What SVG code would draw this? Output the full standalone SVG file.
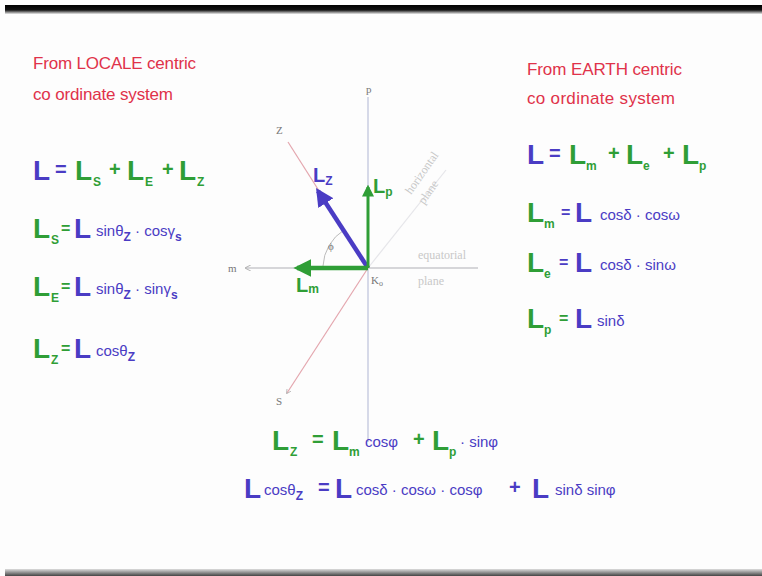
<svg xmlns="http://www.w3.org/2000/svg" width="762" height="576" viewBox="0 0 762 576">
<style>
text { font-family: "Liberation Sans", Arial, sans-serif; }
.big { font-size: 28px; font-weight: bold; }
.mid { font-size: 20px; font-weight: bold; }
.eq { font-size: 16px; font-weight: bold; }
.sm { font-size: 15px; }
.sub { font-size: 12px; font-weight: bold; }
.hd { font-size: 17px; fill: #e0324a; }
.b { fill: #4a3cc4; }
.g { fill: #2f9e36; }
.lbl { font-family: "Liberation Serif", serif; font-size: 11px; fill: #777; }
.faint { font-family: "Liberation Serif", serif; font-size: 12px; fill: #c8c8c8; }
</style>
<defs>
<marker id="ab" viewBox="0 0 10 10" refX="8" refY="5" markerWidth="4" markerHeight="4" orient="auto"><path d="M0,0 L10,5 L0,10 z" fill="#4a3cc4"/></marker>
<marker id="ag" viewBox="0 0 10 10" refX="8" refY="5" markerWidth="4" markerHeight="4" orient="auto"><path d="M0,0 L10,5 L0,10 z" fill="#2f9e36"/></marker>
<marker id="at" viewBox="0 0 10 10" refX="8" refY="5" markerWidth="4" markerHeight="4" orient="auto"><path d="M0,0 L10,5 L0,10" fill="none" stroke="#aaa" stroke-width="1.5"/></marker>
<linearGradient id="tg" x1="0" y1="0" x2="0" y2="1"><stop offset="0" stop-color="#000"/><stop offset="0.55" stop-color="#111"/><stop offset="1" stop-color="#e8e8e8"/></linearGradient>
<linearGradient id="bg" x1="0" y1="0" x2="0" y2="1"><stop offset="0" stop-color="#ddd"/><stop offset="1" stop-color="#444"/></linearGradient>
</defs>
<rect width="762" height="576" fill="#fdfdfd"/>
<rect x="5" y="5" width="757" height="9" fill="url(#tg)"/>
<rect x="5" y="569" width="757" height="7" fill="url(#bg)"/>

<g id="left-heading">
<text class="hd" x="33" y="69" textLength="163">From LOCALE centric</text>
<text class="hd" x="33" y="100" textLength="140">co ordinate system</text>
</g>
<g id="left-eq1">
<text class="big b" x="33" y="180">L</text>
<text class="mid b" x="55" y="176">=</text>
<text class="big g" x="75" y="180">L</text><text class="sub g" x="93" y="186">S</text>
<text class="mid g" x="109" y="176">+</text>
<text class="big g" x="127" y="180">L</text><text class="sub g" x="145" y="186">E</text>
<text class="mid g" x="162" y="176">+</text>
<text class="big g" x="179" y="180">L</text><text class="sub g" x="197" y="186">Z</text>
</g>
<g id="left-eq2">
<text class="big g" x="33" y="238">L</text><text class="sub g" x="51" y="244">S</text>
<text class="eq g" x="61" y="234">=</text>
<text class="big b" x="74" y="238">L</text>
<text class="sm b" x="96" y="236">sinθ<tspan class="sub" dy="5">Z</tspan><tspan dy="-5"> · cosγ</tspan><tspan class="sub" dy="5">s</tspan></text>
</g>
<g id="left-eq3">
<text class="big g" x="33" y="296">L</text><text class="sub g" x="51" y="302">E</text>
<text class="eq g" x="61" y="292">=</text>
<text class="big b" x="74" y="296">L</text>
<text class="sm b" x="96" y="294">sinθ<tspan class="sub" dy="5">Z</tspan><tspan dy="-5"> · sinγ</tspan><tspan class="sub" dy="5">s</tspan></text>
</g>
<g id="left-eq4">
<text class="big g" x="33" y="358">L</text><text class="sub g" x="51" y="364">Z</text>
<text class="eq g" x="61" y="354">=</text>
<text class="big b" x="74" y="358">L</text>
<text class="sm b" x="96" y="356">cosθ<tspan class="sub" dy="5">Z</tspan></text>
</g>

<g id="right-heading">
<text class="hd" x="527" y="75" textLength="155">From EARTH centric</text>
<text class="hd" x="527" y="104" textLength="148">co ordinate system</text>
</g>
<g id="right-eq1">
<text class="big b" x="527" y="164">L</text>
<text class="mid b" x="549" y="160">=</text>
<text class="big g" x="569" y="164">L</text><text class="sub g" x="586" y="170">m</text>
<text class="mid g" x="608" y="160">+</text>
<text class="big g" x="626" y="164">L</text><text class="sub g" x="643" y="170">e</text>
<text class="mid g" x="663" y="160">+</text>
<text class="big g" x="682" y="164">L</text><text class="sub g" x="699" y="170">p</text>
</g>
<g id="right-eq2">
<text class="big g" x="527" y="222">L</text><text class="sub g" x="544" y="228">m</text>
<text class="eq b" x="561" y="218">=</text>
<text class="big b" x="575" y="222">L</text>
<text class="sm b" x="600" y="220">cosδ · cosω</text>
</g>
<g id="right-eq3">
<text class="big g" x="527" y="272">L</text><text class="sub g" x="544" y="278">e</text>
<text class="eq b" x="559" y="268">=</text>
<text class="big b" x="575" y="272">L</text>
<text class="sm b" x="600" y="270">cosδ · sinω</text>
</g>
<g id="right-eq4">
<text class="big g" x="527" y="328">L</text><text class="sub g" x="544" y="334">p</text>
<text class="eq g" x="559" y="324">=</text>
<text class="big b" x="575" y="328">L</text>
<text class="sm b" x="597" y="326">sinδ</text>
</g>

<g id="connectors">
<line x1="368" y1="97" x2="368" y2="442" stroke="#c9cde0" stroke-width="1.5"/>
<line x1="478" y1="268" x2="246" y2="268" stroke="#c8c8cc" stroke-width="1.5" marker-end="url(#at)"/>
<line x1="368" y1="268" x2="288" y2="142" stroke="#e4a6ae" stroke-width="1.2"/>
<line x1="368" y1="268" x2="287" y2="393" stroke="#e4a6ae" stroke-width="1.2" marker-end="url(#at)"/>
<line x1="368" y1="268" x2="446" y2="170" stroke="#e6e6ea" stroke-width="1.2"/>
<path d="M344,230 A45,45 0 0 0 323,266" fill="none" stroke="#bbb" stroke-width="1"/>
<line x1="368" y1="268" x2="318" y2="191" stroke="#4a3cc4" stroke-width="4.5" marker-end="url(#ab)"/>
<line x1="368" y1="268" x2="368" y2="187" stroke="#2f9e36" stroke-width="3" marker-end="url(#ag)"/>
<line x1="368" y1="268" x2="297" y2="268" stroke="#2f9e36" stroke-width="4.5" marker-end="url(#ag)"/>
</g>

<g id="axis-labels">
<text class="lbl" x="366" y="93">p</text>
<text class="lbl" x="228" y="272">m</text>
<text class="lbl" x="276" y="134">Z</text>
<text class="lbl" x="276" y="405">S</text>
<text class="lbl" x="371" y="284">K<tspan font-size="8" dy="2">o</tspan></text>
<text class="lbl" x="328" y="250" font-size="10">ϕ</text>
<text class="faint" x="418" y="259">equatorial</text>
<text class="faint" x="418" y="285">plane</text>
<text class="faint" transform="translate(411,195) rotate(-55)" font-size="10">horizontal</text>
<text class="faint" transform="translate(424,205) rotate(-55)" font-size="10">plane</text>
</g>
<g id="vector-labels">
<text class="mid b" x="313" y="182">L<tspan class="sub" dy="3">Z</tspan></text>
<text class="mid g" x="373" y="193">L<tspan class="sub" dy="3">p</tspan></text>
<text class="mid g" x="296" y="292">L<tspan class="sub" dy="1">m</tspan></text>
</g>

<g id="bottom-eq1">
<text class="big g" x="272" y="450">L</text><text class="sub g" x="290" y="456">Z</text>
<text class="mid g" x="312" y="446">=</text>
<text class="big g" x="332" y="450">L</text><text class="sub g" x="349" y="456">m</text>
<text class="sm b" x="365" y="447">cosφ</text>
<text class="mid g" x="413" y="446">+</text>
<text class="big g" x="432" y="450">L</text><text class="sub g" x="449" y="456">p</text>
<text class="sm b" x="460" y="447">· sinφ</text>
</g>
<g id="bottom-eq2">
<text class="big b" x="244" y="498">L</text>
<text class="sm b" x="264" y="495">cosθ<tspan class="sub" dy="5">Z</tspan></text>
<text class="mid b" x="318" y="494">=</text>
<text class="big b" x="335" y="498">L</text>
<text class="sm b" x="356" y="495">cosδ · cosω · cosφ</text>
<text class="mid b" x="509" y="494">+</text>
<text class="big b" x="532" y="498">L</text>
<text class="sm b" x="555" y="495">sinδ sinφ</text>
</g>
</svg>
